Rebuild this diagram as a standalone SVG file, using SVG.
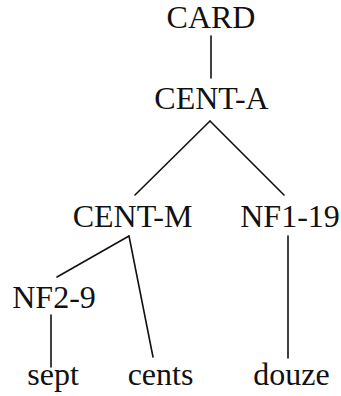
<svg xmlns="http://www.w3.org/2000/svg" width="341" height="396" viewBox="0 0 341 396">
<style>
text{font-family:"Liberation Serif","Times New Roman",serif;font-size:32px;fill:#111;text-anchor:middle}
.e line{stroke:#111;stroke-width:1.6;stroke-linecap:round}
</style>
<rect width="341" height="396" fill="#fff"/>
<g class="e" id="connectors">
<line x1="211" y1="36" x2="211" y2="78"/>
<line x1="210" y1="121" x2="135" y2="195"/>
<line x1="210" y1="121" x2="284" y2="195"/>
<line x1="129" y1="236" x2="57" y2="277"/>
<line x1="129" y1="236" x2="153" y2="357"/>
<line x1="288" y1="236" x2="288" y2="358"/>
<line x1="51" y1="315" x2="51" y2="367"/>
</g>
<g id="card"><text x="211" y="28">CARD</text></g>
<g id="cent-a"><text x="211.5" y="109">CENT-A</text></g>
<g id="cent-m"><text x="132.5" y="227">CENT-M</text></g>
<g id="nf1-19"><text x="290" y="227">NF1-19</text></g>
<g id="nf2-9"><text x="54" y="308">NF2-9</text></g>
<g id="sept"><text x="53" y="385">sept</text></g>
<g id="cents"><text x="160.5" y="385">cents</text></g>
<g id="douze"><text x="291.5" y="385">douze</text></g>
</svg>
